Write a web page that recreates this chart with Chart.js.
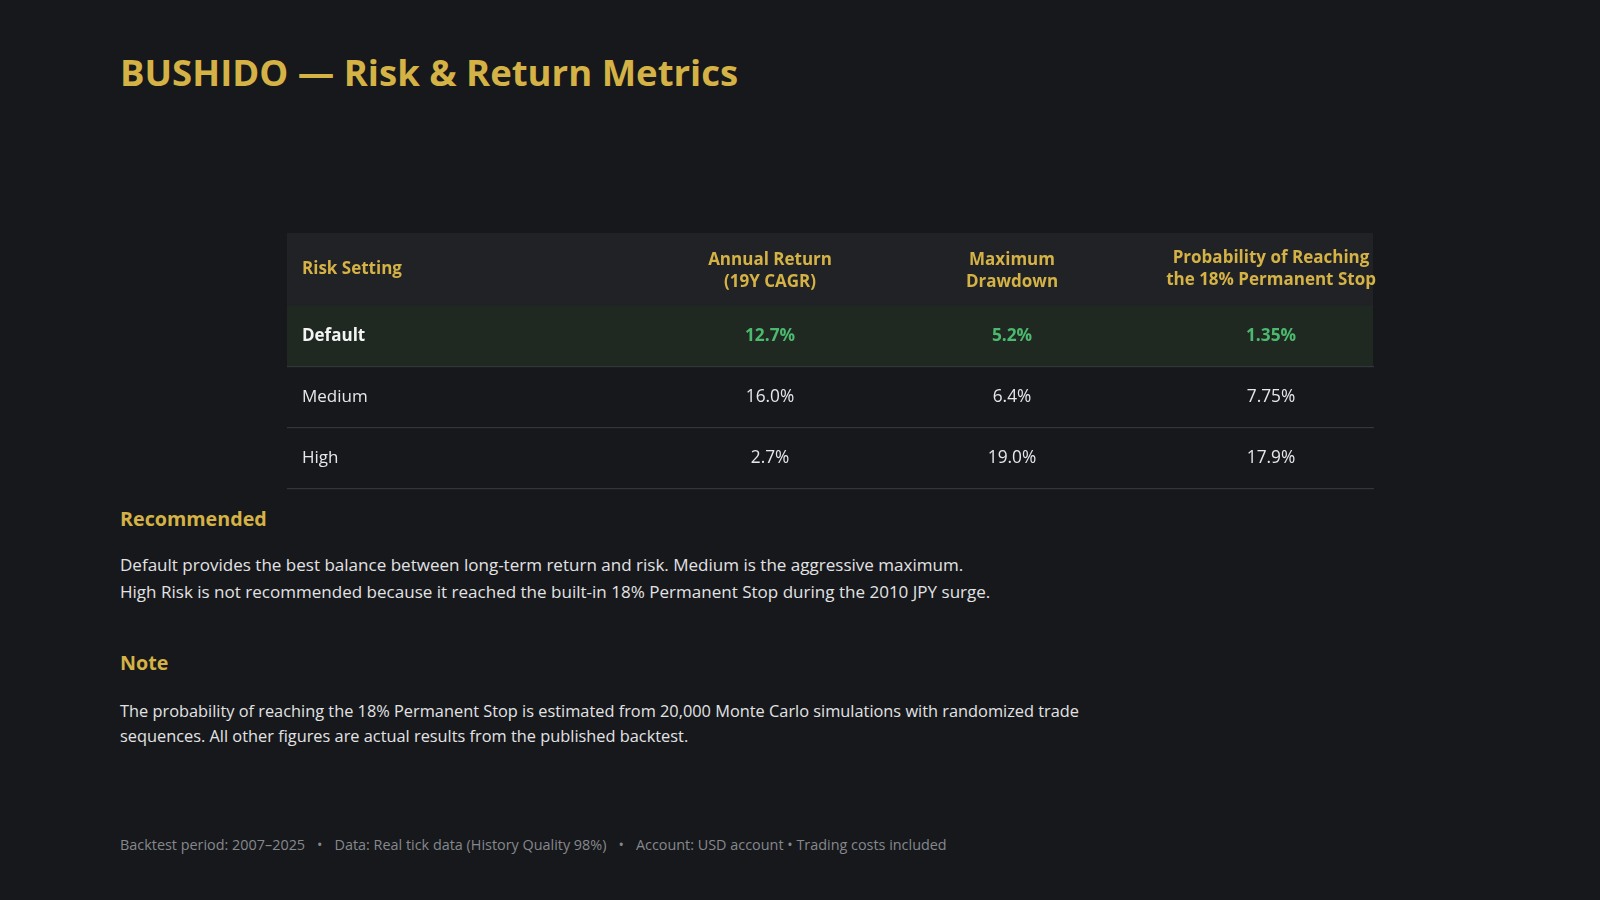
<!DOCTYPE html>
<html>
<head>
<meta charset="utf-8">
<script src="https://cdn.jsdelivr.net/npm/chart.js@4.4.1/dist/chart.umd.min.js"></script>
<style>
  html, body { margin:0; padding:0; width:1600px; height:900px; overflow:hidden; background:#17181b; font-family:"Open Sans", sans-serif; }
  .t { position:absolute; left:120px; white-space:nowrap; }
  #title { top:50px; font-size:36.5px; line-height:44px; font-weight:700; color:#d4b245; }
  .h2 { font-size:19.7px; line-height:26px; font-weight:700; color:#d4b245; }
  #rec { top:506px; }
  #note { top:650px; }
  .p { color:#e2e3e5; }
  #recText { top:552px; line-height:26.5px; font-size:17.05px; }
  #noteText { top:699px; line-height:25px; font-size:16.35px; }
  #footer { top:835px; font-size:14.4px; line-height:20px; color:#85888d; }
  #footer .sep { margin:0 12px; }
  #tableWrap { position:absolute; left:287px; top:233px; width:1130px; height:260px; }
</style>
</head>
<body>
<div id="title" class="t">BUSHIDO — Risk &amp; Return Metrics</div>

<div id="tableWrap"><canvas id="table"></canvas></div>

<div id="rec" class="t h2">Recommended</div>
<div id="recText" class="t p">Default provides the best balance between long-term return and risk. Medium is the aggressive maximum.<br>High Risk is not recommended because it reached the built-in 18% Permanent Stop during the 2010 JPY surge.</div>

<div id="note" class="t h2">Note</div>
<div id="noteText" class="t p">The probability of reaching the 18% Permanent Stop is estimated from 20,000 Monte Carlo simulations with randomized trade<br>sequences. All other figures are actual results from the published backtest.</div>

<div id="footer" class="t">Backtest period: 2007–2025<span class="sep">•</span>Data: Real tick data (History Quality 98%)<span class="sep">•</span>Account: USD account • Trading costs included</div>

<script>
// ---- Data ----
const columnHeaders = [
  ['Risk Setting'],
  ['Annual Return', '(19Y CAGR)'],
  ['Maximum', 'Drawdown'],
  ['Probability of Reaching', 'the 18% Permanent Stop']
];
const riskSettings    = ['Default', 'Medium', 'High'];
const annualReturn    = [12.7, 16.0, 2.7];
const maxDrawdown     = [5.2, 6.4, 19.0];
const stopProbability = [1.35, 7.75, 17.9];
const highlightRow    = 'Default';

// ---- Layout / style (not data) ----
const colLayout = [
  { pos: 0.0138, align: 'left',   dy: -2 },
  { pos: 0.4448, align: 'center', dy: 0 },
  { pos: 0.6676, align: 'center', dy: 0 },
  { pos: 0.9061, align: 'center', dy: -1.5 }
];
const FONT = '"Open Sans", sans-serif';
const COLORS = {
  gold: '#d4b245', headerBg: '#212226', highlightBg: '#1f2922',
  line: '#33363b', text: '#e6e7e9', green: '#4cb96e'
};
const CELL_SIZE = 17.3, HEAD_SIZE = 17, HEAD_LINE = 22;

function fmtPct(v) {
  const tenth = v * 10;
  const oneDec = Math.abs(Math.round(tenth) - tenth) < 1e-9;
  return (oneDec ? v.toFixed(1) : v.toFixed(2)) + '%';
}

const metricSeries = [annualReturn, maxDrawdown, stopProbability];

const datasets = [
  {
    label: columnHeaders[0].join(' '),
    data: riskSettings.map(r => ({ x: colLayout[0].pos, y: r, txt: r })),
    col: 0
  },
  ...metricSeries.map((arr, c) => ({
    label: columnHeaders[c + 1].join(' '),
    data: arr.map((v, i) => ({ x: colLayout[c + 1].pos, y: riskSettings[i], txt: fmtPct(v) })),
    col: c + 1
  }))
].map(d => Object.assign(d, { pointRadius: 0, pointHoverRadius: 0, showLine: false }));

const tablePlugin = {
  id: 'tablePlugin',
  beforeDatasetsDraw(chart) {
    const { ctx, chartArea: ca, scales: { y } } = chart;
    const band = y.getPixelForValue(1) - y.getPixelForValue(0);
    ctx.save();
    // header background
    ctx.fillStyle = COLORS.headerBg;
    ctx.fillRect(ca.left, 0, ca.right - ca.left, ca.top);
    // highlighted row
    const hi = riskSettings.indexOf(highlightRow);
    const hy = y.getPixelForValue(hi);
    ctx.fillStyle = COLORS.highlightBg;
    ctx.fillRect(ca.left, hy - band / 2, ca.right - ca.left, band);
    // row separators
    ctx.fillStyle = COLORS.line;
    riskSettings.forEach((r, i) => {
      const by = Math.round(y.getPixelForValue(i) + band / 2);
      ctx.fillRect(ca.left, by - 1, ca.right - ca.left + 1, 1.2);
    });
    ctx.restore();
  },
  afterDatasetsDraw(chart) {
    const { ctx, chartArea: ca, scales: { x } } = chart;
    ctx.save();
    ctx.textBaseline = 'alphabetic';
    // header labels
    ctx.font = `700 ${HEAD_SIZE}px ${FONT}`;
    ctx.fillStyle = COLORS.gold;
    const hc = ca.top / 2;
    columnHeaders.forEach((lines, c) => {
      const L = colLayout[c];
      ctx.textAlign = L.align;
      const px = x.getPixelForValue(L.pos);
      lines.forEach((ln, j) => {
        const cy = hc + (j - (lines.length - 1) / 2) * HEAD_LINE + L.dy;
        ctx.fillText(ln, px, cy + 0.357 * HEAD_SIZE);
      });
    });
    // cells
    chart.data.datasets.forEach((ds, di) => {
      const meta = chart.getDatasetMeta(di);
      const L = colLayout[ds.col];
      ctx.textAlign = L.align;
      meta.data.forEach((el, i) => {
        const isHi = riskSettings[i] === highlightRow;
        const size = ds.col === 0 ? 17 : CELL_SIZE;
        ctx.font = `${isHi ? 700 : 400} ${size}px ${FONT}`;
        ctx.fillStyle = (isHi && ds.col > 0) ? COLORS.green : (isHi ? '#f4f4f5' : COLORS.text);
        ctx.fillText(ds.data[i].txt, el.x, el.y + 0.357 * size - 1.3);
      });
    });
    ctx.restore();
  }
};

new Chart(document.getElementById('table'), {
  type: 'scatter',
  data: { datasets },
  options: {
    responsive: true,
    maintainAspectRatio: false,
    animation: false,
    events: [],
    layout: { padding: { top: 73, right: 44, bottom: 4, left: 0 } },
    plugins: { legend: { display: false }, tooltip: { enabled: false }, title: { display: false } },
    scales: {
      x: { type: 'linear', min: 0, max: 1, display: false },
      y: { type: 'category', labels: riskSettings, offset: true, display: false }
    }
  },
  plugins: [tablePlugin]
});
</script>
</body>
</html>
